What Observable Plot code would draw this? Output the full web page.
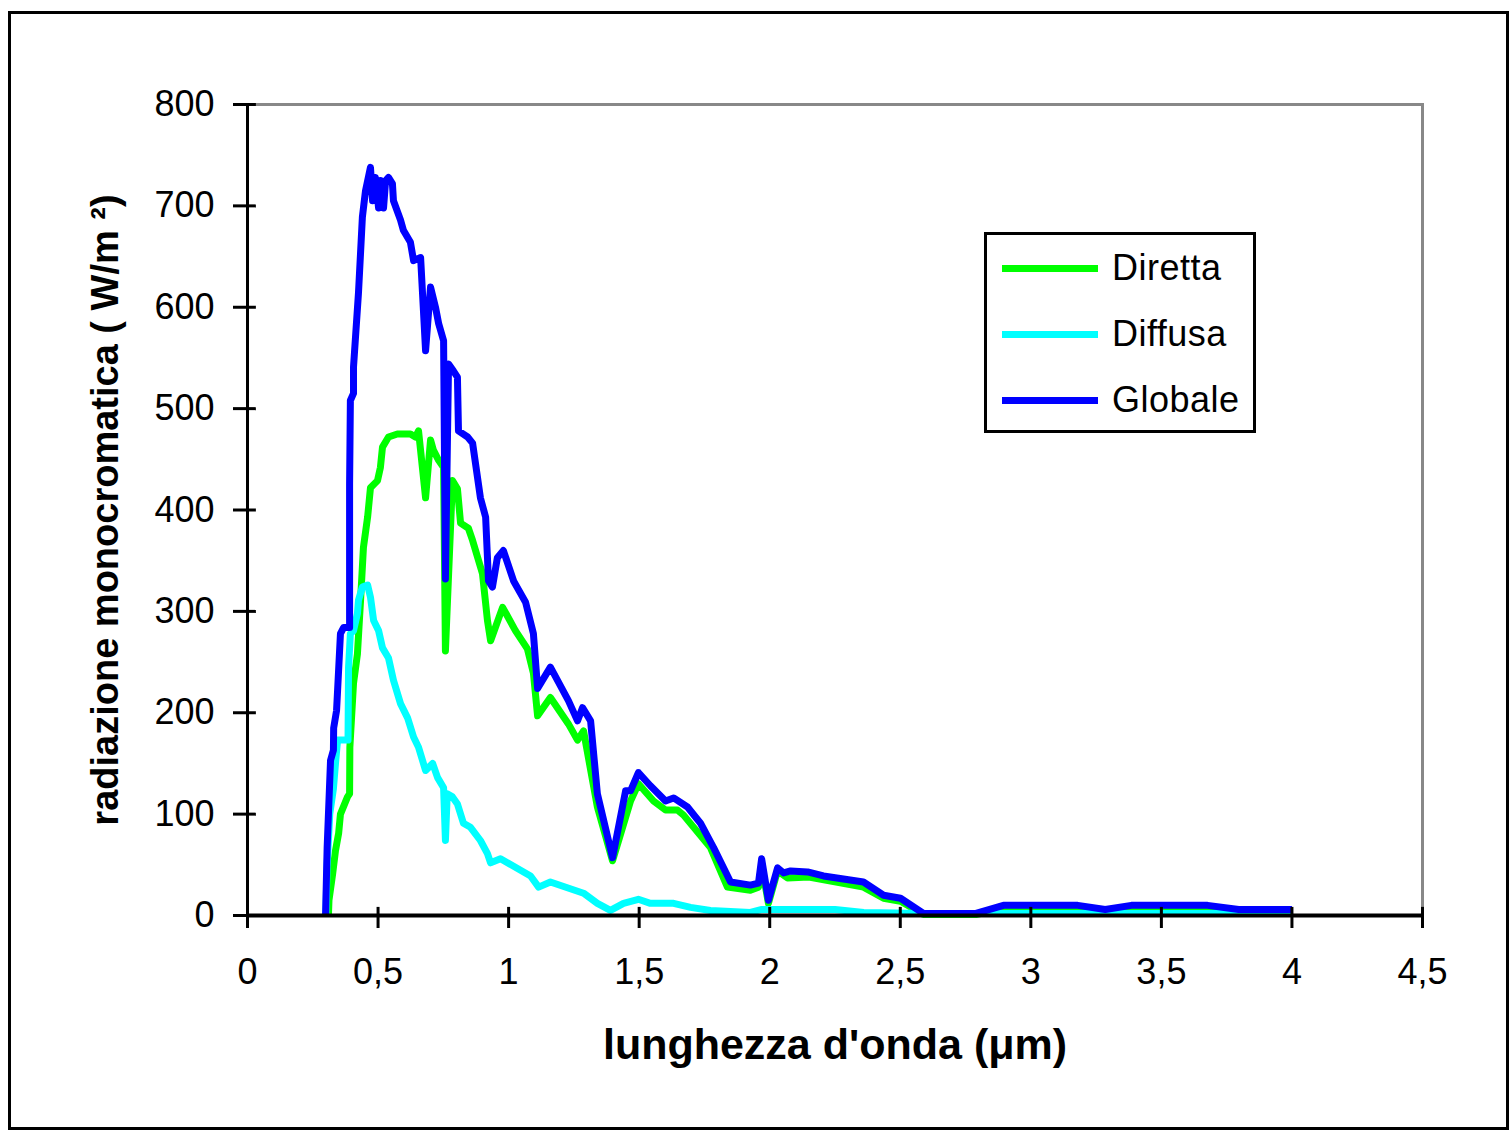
<!DOCTYPE html>
<html>
<head>
<meta charset="utf-8">
<script src="https://cdn.jsdelivr.net/npm/d3@7"></script>
<script src="https://cdn.jsdelivr.net/npm/@observablehq/plot@0.6"></script>
<style>
  html, body { margin: 0; padding: 0; background: #fff; }
  #wrap { position: relative; width: 1509px; height: 1131px; font-family: Arial, "Liberation Sans", sans-serif; }
  #border { position: absolute; left: 8px; top: 11px; width: 1501px; height: 1119px; box-sizing: border-box; border: 3px solid #000; pointer-events: none; }
  #legend { position: absolute; left: 984px; top: 232px; width: 272px; height: 201px; box-sizing: border-box; border: 3px solid #000; background: #fff; }
  .item { position: absolute; left: 15px; height: 40px; display: flex; align-items: center; }
  .sw { width: 96px; height: 7px; margin-right: 14px; }
  .lab { font-size: 36px; color: #000; letter-spacing: 0.5px; }
</style>
</head>
<body>
<div id="wrap">
  <div id="chart"></div>
  <div id="border"></div>
  <div id="legend"></div>
</div>
<script>
// ---- data (wavelength in µm, monochromatic radiation in W/m²) ----
const seriesNames = ["Diretta", "Diffusa", "Globale"];
const seriesColors = ["#00ff00", "#00ffff", "#0000ff"];

const lambdaDiretta = [0.31,0.312,0.326,0.337,0.349,0.356,0.383,0.391,0.392,0.406,0.421,0.433,0.444,0.46,0.471,0.498,0.509,0.517,0.54,0.574,0.624,0.643,0.655,0.682,0.701,0.712,0.732,0.751,0.758,0.785,0.804,0.816,0.846,0.862,0.9,0.919,0.931,0.977,1.026,1.072,1.095,1.111,1.16,1.229,1.264,1.287,1.34,1.398,1.467,1.497,1.555,1.601,1.647,1.67,1.773,1.838,1.926,1.957,1.969,1.995,2.03,2.068,2.15,2.359,2.436,2.501,2.589,2.79,2.895,3.18,3.285,3.385,3.677,3.796,4.0];
const valDiretta    = [0,15,41,64,81,100,117,120,166,229,258,311,363,393,422,429,442,462,472,475,475,472,478,412,469,459,449,442,261,429,421,387,382,370,337,291,271,304,281,263,239,197,215,189,173,182,107,54,113,130,113,104,104,99,67,28,25,28,50,12,44,37,38,28,17,14,1,1,7,7,4,7,7,4,4];

const lambdaDiffusa = [0.30,0.305,0.315,0.329,0.337,0.345,0.385,0.387,0.394,0.406,0.421,0.425,0.44,0.46,0.471,0.483,0.502,0.517,0.54,0.559,0.586,0.613,0.636,0.655,0.682,0.709,0.728,0.751,0.758,0.765,0.785,0.804,0.827,0.854,0.892,0.919,0.931,0.969,1.084,1.115,1.16,1.287,1.34,1.39,1.44,1.497,1.543,1.632,1.697,1.773,1.926,1.97,2.03,2.25,2.36,2.6,4.0];
const valDiffusa    = [0,50,100,125,150,173,173,245,278,281,298,311,324,326,314,291,281,264,254,232,209,195,176,166,143,150,136,126,74,120,117,110,91,87,74,61,52,56,39,28,33,22,12,5,12,16,12,12,8,5,3,6,6,6,3,2,2];

const lambdaGlobale = [0.299,0.305,0.318,0.329,0.33,0.341,0.345,0.356,0.368,0.391,0.391,0.394,0.406,0.406,0.425,0.44,0.452,0.471,0.479,0.49,0.502,0.509,0.521,0.529,0.54,0.555,0.559,0.586,0.597,0.624,0.636,0.663,0.682,0.701,0.72,0.732,0.751,0.758,0.77,0.789,0.804,0.808,0.843,0.862,0.892,0.912,0.923,0.938,0.957,0.98,1.019,1.065,1.095,1.111,1.16,1.229,1.264,1.283,1.314,1.34,1.398,1.448,1.467,1.497,1.543,1.601,1.632,1.685,1.735,1.785,1.85,1.926,1.957,1.969,1.995,2.03,2.053,2.08,2.145,2.206,2.359,2.436,2.501,2.589,2.79,2.895,3.18,3.285,3.385,3.677,3.796,4.0];
const valGlobale    = [0,67,153,163,185,202,222,278,284,284,426,508,515,541,614,689,715,738,705,728,698,725,698,725,728,722,705,686,676,664,646,649,557,620,600,584,567,332,544,537,531,478,472,466,412,393,330,324,353,360,330,309,278,224,245,212,192,205,192,120,57,123,123,141,128,113,116,107,91,67,33,30,32,56,15,47,42,44,43,39,33,20,17,2,2,10,10,6,10,10,6,6];

const xTicks = [0, 0.5, 1, 1.5, 2, 2.5, 3, 3.5, 4, 4.5];
const yTicks = [0, 100, 200, 300, 400, 500, 600, 700, 800];
const xTitle = "lunghezza d'onda (\u03bcm)";
const yTitle = "radiazione monocromatica ( W/m \u00b2)";

// ---- build tables ----
const toRows = (xs, ys) => xs.map((x, i) => ({x, y: ys[i]}));
const rows = [
  toRows(lambdaDiretta, valDiretta),
  toRows(lambdaDiffusa, valDiffusa),
  toRows(lambdaGlobale, valGlobale)
];
const fmt = d => String(d).replace(".", ",");

const chart = Plot.plot({
  width: 1509,
  height: 1131,
  marginLeft: 247,
  marginRight: 87,
  marginTop: 104,
  marginBottom: 216,
  x: {domain: [0, 4.5]},
  y: {domain: [0, 800]},
  style: {fontFamily: "Arial, 'Liberation Sans', sans-serif", background: "transparent", color: "#000", overflow: "visible"},
  marks: [
    Plot.frame({stroke: "#888888", strokeWidth: 3}),
    ...rows.map((r, i) => Plot.line(r, {x: "x", y: "y", stroke: seriesColors[i], strokeWidth: 7, strokeLinejoin: "round", strokeLinecap: "butt"})),
    Plot.ruleX([0], {stroke: "#000", strokeWidth: 3}),
    Plot.ruleY([0], {stroke: "#000", strokeWidth: 4}),
    Plot.axisX({ticks: xTicks, tickFormat: fmt, tickSize: 13, tickPadding: 30, fontSize: 36, strokeWidth: 3, label: null}),
    Plot.ruleX(xTicks, {x: d => d, y1: 0, y2: 8, stroke: "#000", strokeWidth: 3}),
    Plot.axisY({ticks: yTicks, tickSize: 14, tickPadding: 19, fontSize: 36, strokeWidth: 3, label: null}),
    Plot.ruleY(yTicks, {y: d => d, x1: 0, x2: 0.034, stroke: "#000", strokeWidth: 3}),
    Plot.text([xTitle], {text: d => d, frameAnchor: "bottom", textAnchor: "middle", lineAnchor: "top", dy: 113, fontSize: 43, fontWeight: "bold", fill: "#000"}),
    Plot.text([yTitle], {text: d => d, frameAnchor: "left", textAnchor: "middle", lineAnchor: "middle", rotate: -90, dx: -142, fontSize: 38, fontWeight: "bold", fill: "#000"})
  ]
});
document.getElementById("chart").appendChild(chart);

// ---- legend ----
const legend = document.getElementById("legend");
const tops = [13, 79, 145];
seriesNames.forEach((name, i) => {
  const it = document.createElement("div");
  it.className = "item";
  it.style.top = tops[i] + "px";
  it.innerHTML = `<div class="sw" style="background:${seriesColors[i]}"></div><span class="lab">${name}</span>`;
  legend.appendChild(it);
});
</script>
</body>
</html>
